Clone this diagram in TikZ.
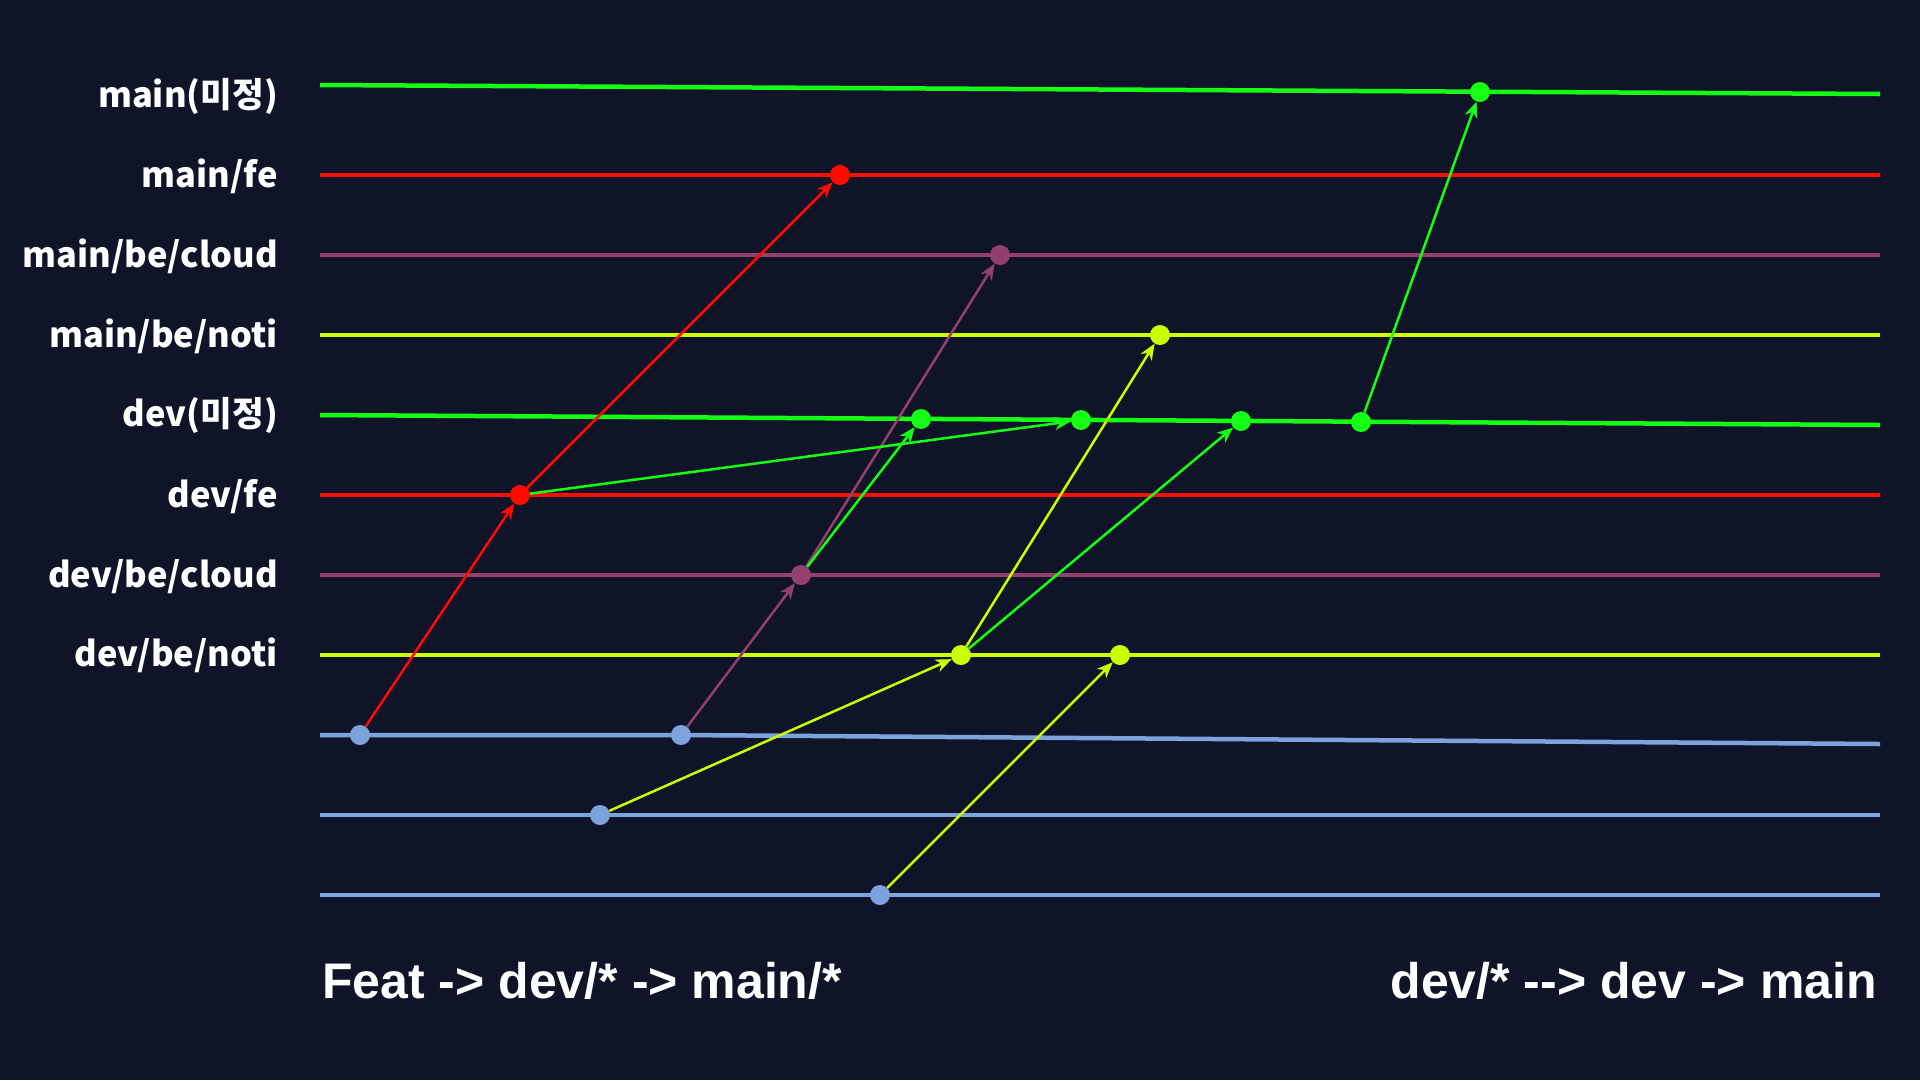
\documentclass[tikz,border=0pt]{standalone}
\usepackage{fontspec}
\newfontfamily\lab{Noto Sans CJK KR}
\newfontfamily\bottomfont{Liberation Sans}
\usetikzlibrary{arrows.meta}
\definecolor{bg}{RGB}{16,20,40}
\definecolor{cgreen}{RGB}{20,255,20}
\definecolor{cred}{RGB}{255,10,0}
\definecolor{cpurple}{RGB}{148,64,108}
\definecolor{cyellow}{RGB}{204,255,0}
\definecolor{cblue}{RGB}{125,163,223}
\tikzset{
  dot/.style={circle, fill=#1, inner sep=0pt, minimum size=20pt},
  branch/.style={draw=#1, line width=4.5pt},
  arr/.style={draw=#1, line width=2.5pt, -{Stealth[length=16pt,width=13pt,inset=5pt]}},
  lbl/.style={anchor=base east, inner sep=0pt, text=white, font=\lab\bfseries\fontsize{34.5pt}{40pt}\selectfont},
  foot/.style={inner sep=0pt, text=white, font=\bottomfont\bfseries\fontsize{50pt}{56pt}\selectfont}
}
\begin{document}
\begin{tikzpicture}[x=1pt,y=-1pt]
\fill[bg] (0,0) rectangle (1920,1080);
\useasboundingbox (0,0) rectangle (1920,1080);
% branch lines
\draw[branch=cgreen] (320,85) -- (1880,94);
\draw[branch=cred] (320,175) -- (1880,175);
\draw[branch=cpurple] (320,255) -- (1880,255);
\draw[branch=cyellow] (320,335) -- (1880,335);
\draw[branch=cgreen] (320,415) -- (1880,425);
\draw[branch=cred] (320,495) -- (1880,495);
\draw[branch=cpurple] (320,575) -- (1880,575);
\draw[branch=cyellow] (320,655) -- (1880,655);
\draw[branch=cblue] (320,735) -- (681,735) -- (1880,744);
\draw[branch=cblue] (320,815) -- (1880,815);
\draw[branch=cblue] (320,895) -- (1880,895);
% labels
\node[lbl] (lmain) at (278,107) {main(미정)};
\node[lbl] (lmfe) at (278,187) {main/fe};
\node[lbl] (lmcl) at (278,267) {main/be/cloud};
\node[lbl] (lmno) at (278,347) {main/be/noti};
\node[lbl] (ldev) at (278,426) {dev(미정)};
\node[lbl] (ldfe) at (278,507) {dev/fe};
\node[lbl] (ldcl) at (278,587) {dev/be/cloud};
\node[lbl] (ldno) at (278,666) {dev/be/noti};
% commits
\node[dot=cblue] (A) at (360,735) {};
\node[dot=cblue] (B) at (681,735) {};
\node[dot=cblue] (C) at (600,815) {};
\node[dot=cblue] (D) at (880,895) {};
\node[dot=cred] (E) at (520,495) {};
\node[dot=cred] (F) at (840,175) {};
\node[dot=cpurple] (G) at (801,575) {};
\node[dot=cpurple] (H) at (1000,255) {};
\node[dot=cyellow] (I) at (961,655) {};
\node[dot=cyellow] (J) at (1120,655) {};
\node[dot=cyellow] (K) at (1160,335) {};
\node[dot=cgreen] (D1) at (921,419) {};
\node[dot=cgreen] (D2) at (1081,420) {};
\node[dot=cgreen] (D3) at (1241,421) {};
\node[dot=cgreen] (D4) at (1361,422) {};
\node[dot=cgreen] (M) at (1480,92) {};
% merges
\draw[arr=cred] (A) -- (E);
\draw[arr=cred] (E) -- (F);
\draw[arr=cpurple] (B) -- (G);
\draw[arr=cpurple] (G) -- (H);
\draw[arr=cyellow] (C) -- (I);
\draw[arr=cyellow] (I) -- (K);
\draw[arr=cyellow] (D) -- (J);
\draw[arr=cgreen] (E) -- (D2);
\draw[arr=cgreen] (G) -- (D1);
\draw[arr=cgreen] (I) -- (D3);
\draw[arr=cgreen] (D4) -- (M);
% footers
\node[foot, anchor=base west] (f1) at (322,998) {Feat -> dev/* -> main/*};
\node[foot, anchor=base east] (f2) at (1877,998) {dev/* --> dev -> main};
\end{tikzpicture}
\end{document}
